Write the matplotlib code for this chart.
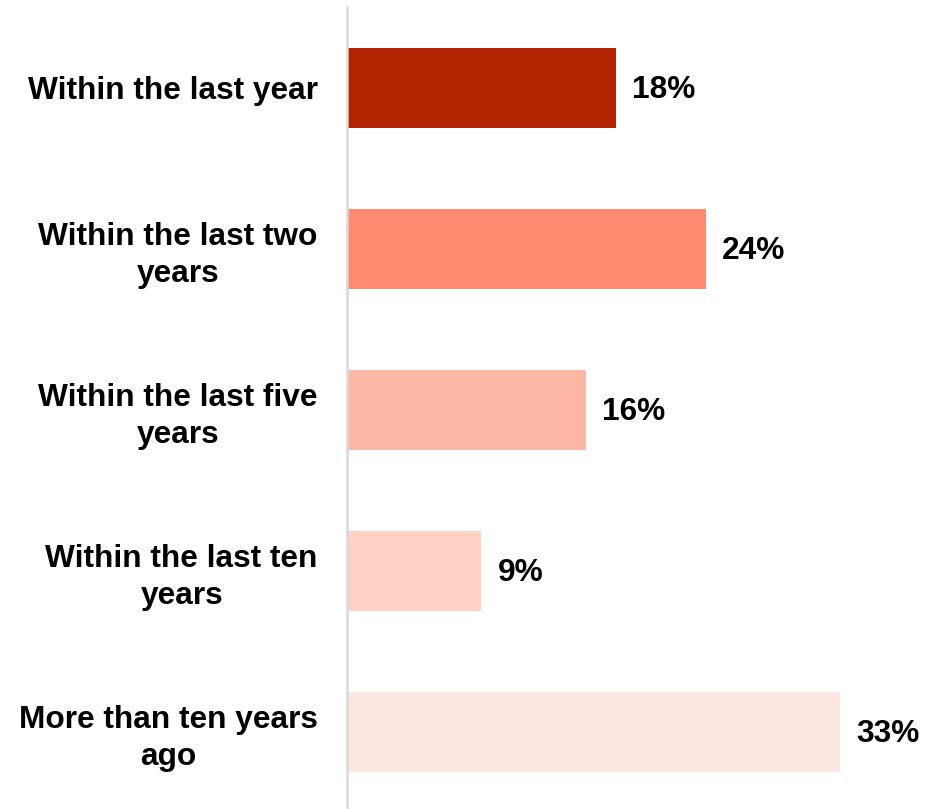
import matplotlib
matplotlib.use("Agg")
import matplotlib.pyplot as plt

categories = ["Within the last year", "Within the last two\nyears", "Within the last five\nyears",
              "Within the last ten\nyears", "More than ten years\nago"]
values = [18, 24, 16, 9, 33]
value_labels = ["18%", "24%", "16%", "9%", "33%"]
colors = ["#B22400", "#FF8A6E", "#FFB7A5", "#FFD1C5", "#FDE6E0"]

plt.rcParams["font.family"] = ["Liberation Sans", "DejaVu Sans"]

W, H = 946, 809
fig = plt.figure(figsize=(W / 100, H / 100), dpi=100)
left_px, right_px = 347, 935
top_px, bot_px = 7.5, 809
px_per_unit = 14.94
ax = fig.add_axes([left_px / W, 0, (right_px - left_px) / W, (bot_px - top_px) / H])

y = list(range(len(categories)))
ax.barh(y, values, height=0.5, color=colors)
ax.set_xlim(0, (right_px - left_px) / px_per_unit)
ax.set_ylim(-0.5 + (bot_px - top_px) / 161, -0.5)

for yi, v, lab in zip(y, values, value_labels):
    ax.text(v + 16 / px_per_unit, yi + 0.015, lab, va="center", ha="left",
            fontsize=22.8, fontweight="bold", color="black")

ax.set_yticks(y)
ax.set_yticklabels(categories, fontsize=22.8, fontweight="bold", multialignment="center",
                   linespacing=1.3)
ax.tick_params(axis="y", length=0, pad=21)
ax.set_xticks([])
for s in ["top", "right", "bottom"]:
    ax.spines[s].set_visible(False)
ax.spines["left"].set_color("#D9D9D9")
ax.spines["left"].set_linewidth(1.8)

fig.savefig("out.png", dpi=100)
